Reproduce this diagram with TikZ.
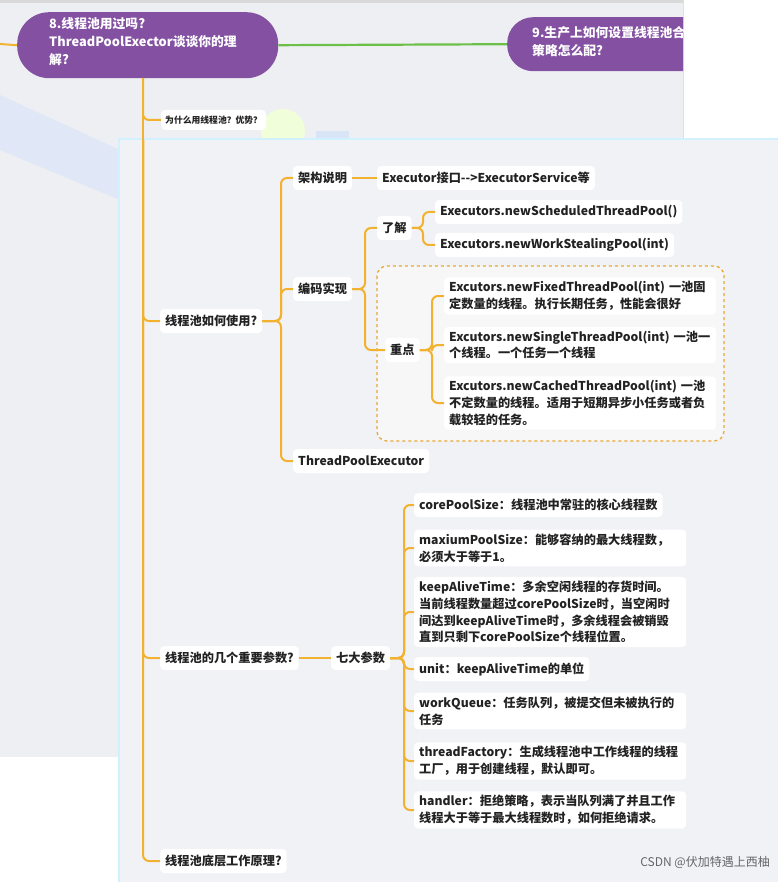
\documentclass[tikz,border=0pt]{standalone}
\usepackage{fontspec}
\setmainfont{Noto Sans CJK SC}
\definecolor{org}{HTML}{F2B230}
\definecolor{grn}{HTML}{6CC04A}
\definecolor{pur}{HTML}{8350A2}
\definecolor{bgg}{HTML}{EEEFF3}
\definecolor{pan}{HTML}{F1F2F6}
\definecolor{txt}{HTML}{222222}
\begin{document}
\begin{tikzpicture}[x=1pt,y=-1pt,
 box/.style={fill=white,rounded corners=4pt,inner xsep=5pt,inner ysep=4pt,minimum height=24pt,
   font=\bfseries\fontsize{12.2}{16.8}\selectfont,anchor=west,align=left,text=txt},
 tw/.style={text width=#1},
 conn/.style={draw=org,line width=2pt,rounded corners=6pt}]
\useasboundingbox (0,0) rectangle (778,882);
\fill[white] (0,0) rectangle (778,882);
\fill[bgg] (0,0) rectangle (683,757);
\fill[black!15] (0,0) rectangle (683,3);
\draw[black!12] (683,0) -- (683,140);
% watermark
\fill[cyan!50!blue!12] (0,95) -- (120,150) -- (120,200) -- (0,150) -- cycle;
\fill[cyan!60!blue!15] (316,131) rectangle (349,145);
\fill[green!40!yellow!15] (283,131) circle (22);
% title nodes
\node[fill=pur,rounded corners=32pt,minimum width=261pt,minimum height=66pt,anchor=north west,inner sep=0] (t8) at (17,12) {};
\node[anchor=north west,text=white,align=left,font=\bfseries\fontsize{12.8}{18}\selectfont,inner sep=0] at (49,17)
 {8.线程池用过吗?\\ThreadPoolExector谈谈你的理\\解?};
\begin{scope}
\clip (0,0) rectangle (683,140);
\node[fill=pur,rounded corners=26pt,minimum width=240pt,minimum height=54pt,anchor=north west,inner sep=0] (t9) at (507,17) {};
\node[anchor=north west,text=white,align=left,font=\bfseries\fontsize{12.8}{18}\selectfont,inner sep=0] at (532,26)
 {9.生产上如何设置线程池合理拒绝\\策略怎么配?};
\end{scope}
\draw[org,line width=2pt] (0,44) -- (t8.west);
\draw[grn,line width=2.2pt] (t8.east) -- (t9.west);
\coordinate (trunk) at (143,78);
% why node
\node[box,font=\bfseries\fontsize{8.8}{10}\selectfont,minimum height=20pt,inner xsep=4pt] (why) at (161,120) {为什么用线程池？优势？};
\draw[conn] (trunk) |- (why.west);
% panel
\fill[blue!30!cyan!18] (118,138) rectangle (778,882);
\fill[pan] (120,140) rectangle (778,882);
\coordinate (ptop) at (143,140);
\draw[org,line width=2pt] (trunk) -- (ptop);
% level 1
\node[box] (use) at (160,321) {线程池如何使用?};
\node[box] (par) at (160,658) {线程池的几个重要参数?};
\node[box] (low) at (160,861) {线程池底层工作原理?};
\draw[conn] (ptop) |- (use.west);
\draw[conn] (ptop) |- (par.west);
\draw[conn] (ptop) |- (low.west);
% use branch
\node[box] (arch) at (293,178) {架构说明};
\node[box] (code) at (293,289) {编码实现};
\node[box] (tpe) at (293,461) {ThreadPoolExecutor};
\foreach \c in {arch,code,tpe} \draw[conn] (use.east) -- (281,321) |- (\c.west);
\node[box] (exe) at (377,178) {Executor接口{-}{-}>ExecutorService等};
\draw[conn] (arch.east) -- (exe.west);
\draw[org!80!brown,dashed,line width=1.3pt,rounded corners=10pt,fill=black!3] (377,266) rectangle (724,441);
\node[box] (know) at (377,228) {了解};
\node[box] (key) at (385,350) {重点};
\foreach \c in {know,key} \draw[conn] (code.east) -- (365,289) |- (\c.west);
\node[box] (sch) at (435,212) {Executors.newScheduledThreadPool()};
\node[box] (ws) at (435,245) {Executors.newWorkStealingPool(int)};
\foreach \c in {sch,ws} \draw[conn] (know.east) -- (423,228) |- (\c.west);
\node[box,tw=262pt] (fix) at (444,296) {Excutors.newFixedThreadPool(int) 一池固\\定数量的线程。执行长期任务，性能会很好};
\node[box,tw=262pt] (sin) at (444,345) {Excutors.newSingleThreadPool(int) 一池一\\个线程。一个任务一个线程};
\node[box,tw=262pt] (cac) at (444,403) {Excutors.newCachedThreadPool(int) 一池\\不定数量的线程。适用于短期异步小任务或者负\\载较轻的任务。};
\foreach \c in {fix,sin,cac} \draw[conn] (key.east) -- (432,350) |- (\c.west);
% params
\node[box] (seven) at (331,658) {七大参数};
\draw[conn] (par.east) -- (seven.west);
\node[box] (p1) at (414,505) {corePoolSize：线程池中常驻的核心线程数};
\node[box,tw=262pt] (p2) at (414,548) {maxiumPoolSize：能够容纳的最大线程数，\\必须大于等于1。};
\node[box,tw=262pt] (p3) at (414,612) {keepAliveTime：多余空闲线程的存货时间。\\当前线程数量超过corePoolSize时，当空闲时\\间达到keepAliveTime时，多余线程会被销毁\\直到只剩下corePoolSize个线程位置。};
\node[box] (p4) at (414,669) {unit：keepAliveTime的单位};
\node[box,tw=262pt] (p5) at (414,711) {workQueue：任务队列，被提交但未被执行的\\任务};
\node[box,tw=262pt] (p6) at (414,761) {threadFactory：生成线程池中工作线程的线程\\工厂，用于创建线程，默认即可。};
\node[box,tw=262pt] (p7) at (414,810) {handler：拒绝策略，表示当队列满了并且工作\\线程大于等于最大线程数时，如何拒绝请求。};
\foreach \c in {p1,p2,p3,p4,p5,p6,p7} \draw[conn] (seven.east) -- (404,658) |- (\c.west);
\node[anchor=east,text=black!60,font=\fontsize{12}{13}\selectfont,inner sep=0] (wm) at (770,862) {CSDN @伏加特遇上西柚};
\end{tikzpicture}
\end{document}
